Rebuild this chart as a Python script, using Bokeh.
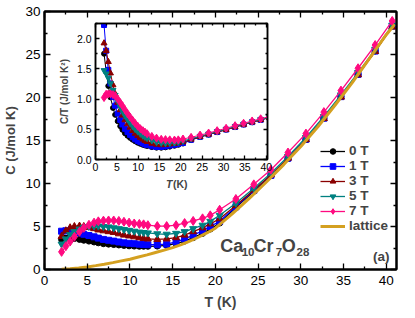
from bokeh.plotting import figure
from bokeh.models import (FixedTicker, LinearAxis, Legend, LegendItem, Label,
                          Range1d, ColumnDataSource, NumeralTickFormatter,
                          CustomLabelingPolicy)
from bokeh.layouts import column
from bokeh.embed import file_html
from bokeh.resources import INLINE

# ---------------- data ----------------
T = [2.0, 2.5, 3.0, 3.5, 4.1, 4.6, 5.2, 5.8, 6.3, 6.9, 7.5, 8.1, 8.7, 9.3, 9.9,
     10.5, 11.1, 11.6, 12.1, 13.2, 14.3, 15.4, 16.4, 17.4, 18.5, 19.4,
     20.5, 22.4, 24.5, 26.5, 28.5, 30.6, 32.7, 34.7, 36.7, 38.7, 40.7]

C_0T = [3.5, 3.65, 3.65, 3.6, 3.5, 3.4, 3.3, 3.2, 3.1, 3.0, 2.95, 2.9, 2.85, 2.8, 2.75,
        2.72, 2.7, 2.7, 2.7, 2.72, 2.8, 3.0, 3.3, 3.7, 4.2, 4.7,
        5.4, 7.2, 9.1, 10.9, 12.9, 15.1, 17.6, 20.1, 22.7, 25.4, 28.3]
C_1T = [4.45, 4.5, 4.45, 4.4, 4.25, 4.1, 3.95, 3.8, 3.65, 3.5, 3.4, 3.3, 3.2, 3.1, 3.05,
        3.0, 2.95, 2.9, 2.88, 2.88, 2.95, 3.2, 3.55, 4.0, 4.5, 5.0,
        5.6, 7.3, 9.2, 10.95, 12.95, 15.15, 17.6, 20.1, 22.7, 25.4, 28.3]
C_3T = [3.85, 4.5, 4.85, 5.0, 5.05, 5.0, 4.9, 4.75, 4.6, 4.5, 4.4, 4.3, 4.15, 4.0, 3.9,
        3.8, 3.7, 3.6, 3.55, 3.5, 3.55, 3.7, 4.0, 4.4, 4.85, 5.3,
        5.9, 7.45, 9.25, 11.0, 12.95, 15.1, 17.55, 20.05, 22.65, 25.35, 28.2]
C_5T = [2.95, 3.55, 4.05, 4.4, 4.7, 4.9, 5.0, 5.05, 5.05, 5.0, 4.95, 4.85, 4.75, 4.65, 4.55,
        4.45, 4.35, 4.3, 4.25, 4.15, 4.1, 4.2, 4.4, 4.75, 5.15, 5.6,
        6.3, 7.7, 9.45, 11.2, 13.15, 15.35, 17.8, 20.3, 22.9, 25.6, 28.4]
C_7T = [2.05, 2.7, 3.25, 3.8, 4.4, 4.85, 5.2, 5.45, 5.6, 5.68, 5.7, 5.7, 5.65, 5.55, 5.45,
        5.35, 5.3, 5.25, 5.15, 5.05, 5.05, 5.15, 5.4, 5.65, 5.95, 6.3,
        6.95, 8.2, 9.9, 11.6, 13.6, 15.8, 18.3, 20.8, 23.4, 26.1, 28.9]

lattice_T = [2, 3, 4, 5, 6, 7, 8, 9, 10, 11, 12, 13, 14, 15, 16, 17, 18, 19, 20,
             22, 24, 26, 28, 30, 32, 34, 36, 38, 40, 41]
lattice_C = [0.03, 0.09, 0.18, 0.3, 0.45, 0.62, 0.8, 1.0, 1.2, 1.45, 1.7, 1.98, 2.25,
             2.55, 2.9, 3.3, 3.75, 4.25, 4.8, 6.5, 8.3, 10.2, 12.2, 14.3, 16.6, 19.1,
             21.7, 24.5, 27.3, 28.5]

labels = ["0 T", "1 T", "3 T", "5 T", "7 T"]
series = [C_0T, C_1T, C_3T, C_5T, C_7T]
colors = ["#000000", "#0000ff", "#8a0000", "#008080", "#ff0a80"]
markers = ["circle", "square", "triangle", "inverted_triangle", "diamond"]
msizes = [6, 6, 7, 7, 9]
lattice_color = "#d4a020"

x_major = [0, 5, 10, 15, 20, 25, 30, 35, 40]
x_minor = [2.5, 7.5, 12.5, 17.5, 22.5, 27.5, 32.5, 37.5]
y_major = [0, 5, 10, 15, 20, 25, 30]
y_minor = [2.5, 7.5, 12.5, 17.5, 22.5, 27.5]
iy_major = [0.0, 0.5, 1.0, 1.5, 2.0]
iy_minor = [0.25, 0.75, 1.25, 1.75, 2.25]

FONT = "Liberation Sans"


def style_axis(ax, size, tin, tmin, lw, labels_on=True):
    ax.major_tick_in = tin
    ax.major_tick_out = 0
    ax.minor_tick_in = tmin
    ax.minor_tick_out = 0
    ax.axis_line_width = lw
    ax.major_tick_line_width = 1.3
    ax.minor_tick_line_width = 1.3
    ax.major_label_text_font = FONT
    ax.major_label_text_font_size = size
    ax.major_label_text_color = "black"
    if not labels_on:
        ax.major_label_standoff = 0
        ax.major_label_policy = CustomLabelingPolicy(code="return new Set()")


# ---------------- main figure ----------------
p = figure(frame_width=352, frame_height=258,
           x_range=Range1d(0, 41.2), y_range=Range1d(0, 30),
           output_backend="svg", toolbar_location=None,
           min_border_left=38, min_border_right=10, min_border_top=7,
           min_border_bottom=44)
p.xgrid.visible = False
p.ygrid.visible = False
p.outline_line_color = "black"
p.outline_line_width = 2

p.xaxis.ticker = FixedTicker(ticks=x_major, minor_ticks=x_minor)
p.yaxis.ticker = FixedTicker(ticks=y_major, minor_ticks=y_minor)
style_axis(p.xaxis[0], "13.5px", 6, 3, 2)
style_axis(p.yaxis[0], "13.5px", 6, 3, 2)
p.xaxis.major_label_standoff = 6
p.yaxis.major_label_standoff = 4
p.yaxis.axis_label = "C (J/mol K)"
p.yaxis.axis_label_text_font = FONT
p.yaxis.axis_label_text_font_style = "bold"
p.yaxis.axis_label_text_font_size = "13px"
p.yaxis.axis_label_standoff = 4
p.xaxis.axis_label = "T (K)"
p.xaxis.axis_label_text_font = FONT
p.xaxis.axis_label_text_font_style = "bold"
p.xaxis.axis_label_text_font_size = "14px"
p.xaxis.axis_label_standoff = 6

top_ax = LinearAxis(ticker=FixedTicker(ticks=x_major, minor_ticks=x_minor))
style_axis(top_ax, "10px", 6, 3, 2, labels_on=False)
p.add_layout(top_ax, "above")
right_ax = LinearAxis(ticker=FixedTicker(ticks=y_major, minor_ticks=y_minor))
style_axis(right_ax, "10px", 6, 3, 2, labels_on=False)
p.add_layout(right_ax, "right")

items = []
for lab, c, col, m, ms in zip(labels, series, colors, markers, msizes):
    src = ColumnDataSource(dict(T=T, C=c))
    r1 = p.line("T", "C", source=src, line_color=col, line_width=1.3)
    r2 = p.scatter("T", "C", source=src, marker=m, size=ms, fill_color=col, line_color=col)
    items.append(LegendItem(label=lab, renderers=[r1, r2]))
lsrc = ColumnDataSource(dict(T=lattice_T, C=lattice_C))
rl = p.line("T", "C", source=lsrc, line_color=lattice_color, line_width=3)
items.append(LegendItem(label="lattice", renderers=[rl]))

legend = Legend(items=items, location=(276, 36), padding=0, margin=0,
                spacing=0, glyph_width=25, glyph_height=14, label_height=14,
                label_standoff=4, border_line_color=None, background_fill_alpha=0,
                label_text_font=FONT, label_text_font_style="bold",
                label_text_font_size="13.5px")
p.add_layout(legend, "center")

# compound formula
big = "18px"
small = "11.5px"
for txt, x, y, fs in [("Ca", 20.56, 2.69, big), ("10", 23.08, 2.0, small),
                      ("Cr", 24.45, 2.69, big), ("7", 27.06, 2.0, small),
                      ("O", 27.76, 2.69, big), ("28", 29.5, 2.0, small)]:
    p.add_layout(Label(x=x, y=y, text=txt, text_font=FONT, text_font_style="bold",
                       text_font_size=fs, text_baseline="alphabetic"))
p.add_layout(Label(x=38.45, y=1.53, text="(a)", text_font=FONT, text_font_style="bold",
                   text_font_size="13.5px", text_baseline="alphabetic"))

# inset x-axis title (lies inside the main frame, below the inset)
p.add_layout(Label(x=14.21, y=9.99, text="T", text_font=FONT, text_font_style="bold italic",
                   text_font_size="10.5px", text_baseline="alphabetic"))
p.add_layout(Label(x=15.03, y=9.99, text="(K)", text_font=FONT, text_font_style="bold",
                   text_font_size="10.5px", text_baseline="alphabetic"))

# ---------------- inset ----------------
ins = figure(frame_width=172, frame_height=136,
             x_range=Range1d(0, 40.3), y_range=Range1d(0, 2.25),
             output_backend="svg", toolbar_location=None,
             min_border_left=40, min_border_right=4, min_border_top=6,
             min_border_bottom=20)
ins.xgrid.visible = False
ins.ygrid.visible = False
ins.outline_line_color = "black"
ins.outline_line_width = 1.5
ins.border_fill_alpha = 0
ins.background_fill_color = "white"
ins.xaxis.ticker = FixedTicker(ticks=x_major, minor_ticks=x_minor)
ins.yaxis.ticker = FixedTicker(ticks=iy_major, minor_ticks=iy_minor)
ins.yaxis.formatter = NumeralTickFormatter(format="0.0")
style_axis(ins.xaxis[0], "10.5px", 4, 2, 1.5)
style_axis(ins.yaxis[0], "10.5px", 4, 2, 1.5)
ins.xaxis.major_label_standoff = 3
ins.yaxis.major_label_standoff = 4
ins.yaxis.axis_label = "C/T (J/mol K²)"
ins.yaxis.axis_label_text_font = FONT
ins.yaxis.axis_label_text_font_style = "bold"
ins.yaxis.axis_label_text_font_size = "10px"
ins.yaxis.axis_label_standoff = 4
itop = LinearAxis(ticker=FixedTicker(ticks=x_major, minor_ticks=x_minor))
style_axis(itop, "8px", 4, 2, 1.5, labels_on=False)
ins.add_layout(itop, "above")
iright = LinearAxis(ticker=FixedTicker(ticks=iy_major, minor_ticks=iy_minor))
style_axis(iright, "8px", 4, 2, 1.5, labels_on=False)
ins.add_layout(iright, "right")

for c, col, m, ms in zip(series, colors, markers, msizes):
    src = ColumnDataSource(dict(T=T, CT=[ci / ti for ci, ti in zip(c, T)]))
    ins.line("T", "CT", source=src, line_color=col, line_width=1.0)
    ins.scatter("T", "CT", source=src, marker=m, size=ms - 1, fill_color=col, line_color=col)

ins.styles = {"position": "absolute", "left": "51px", "top": "15px", "z-index": "5"}

layout = column(p, ins, styles={"position": "relative"})

with open("out.html", "w") as f:
    f.write(file_html(layout, INLINE))
